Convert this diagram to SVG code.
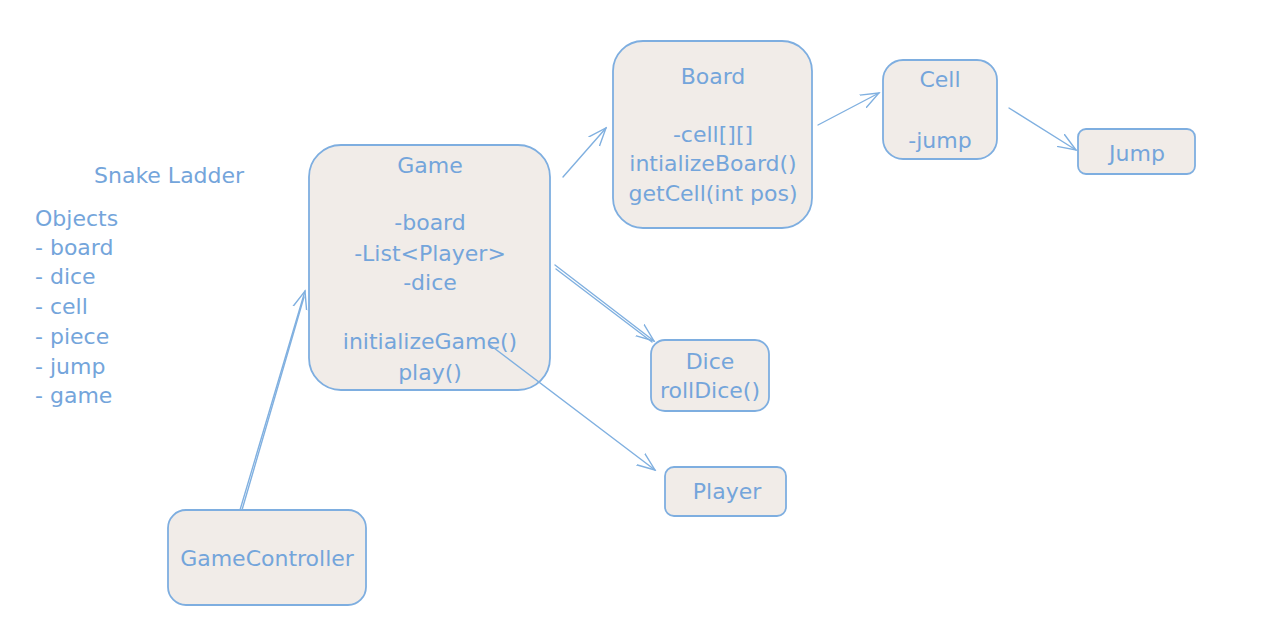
<svg xmlns="http://www.w3.org/2000/svg" width="1275" height="634" viewBox="0 0 1275 634">
<style>
.box{fill:#f1ece8;stroke:#7eaee0;stroke-width:1.8}
.t{font-family:"DejaVu Sans","Liberation Sans",sans-serif;font-size:22px;fill:#74a5db;text-anchor:middle}
.l{font-family:"DejaVu Sans","Liberation Sans",sans-serif;font-size:22px;fill:#74a5db}
.c{fill:none;stroke:#80b0e0;stroke-width:1.4;stroke-linecap:round}
</style>
<defs>
<marker id="ah" viewBox="0 0 20 20" refX="18" refY="10" markerWidth="20" markerHeight="20" markerUnits="userSpaceOnUse" orient="auto">
<path d="M0,3 L18,10 L0,17" fill="none" stroke="#80b0e0" stroke-width="1.4" stroke-linecap="round"/>
</marker>
</defs>
<rect width="1275" height="634" fill="#ffffff"/>
<g id="notes">
<text class="l" x="94" y="183">Snake Ladder</text>
<text class="l" x="35" y="226">Objects</text>
<text class="l" x="35" y="255">- board</text>
<text class="l" x="35" y="284">- dice</text>
<text class="l" x="35" y="314">- cell</text>
<text class="l" x="35" y="344">- piece</text>
<text class="l" x="35" y="374">- jump</text>
<text class="l" x="35" y="403">- game</text>
</g>
<g id="game">
<rect class="box" x="309" y="145" width="241" height="245" rx="32"/>
<text class="t" x="430" y="173">Game</text>
<text class="t" x="430" y="230">-board</text>
<text class="t" x="430" y="261">-List&lt;Player&gt;</text>
<text class="t" x="430" y="290">-dice</text>
<text class="t" x="430" y="349">initializeGame()</text>
<text class="t" x="430" y="380">play()</text>
</g>
<g id="board">
<rect class="box" x="613" y="41" width="199" height="187" rx="30"/>
<text class="t" x="713" y="84">Board</text>
<text class="t" x="713" y="142">-cell[][]</text>
<text class="t" x="713" y="171">intializeBoard()</text>
<text class="t" x="713" y="201">getCell(int pos)</text>
</g>
<g id="cell">
<rect class="box" x="883" y="60" width="114" height="99" rx="20"/>
<text class="t" x="940" y="87">Cell</text>
<text class="t" x="940" y="148">-jump</text>
</g>
<g id="jump">
<rect class="box" x="1078" y="129" width="117" height="45" rx="8"/>
<text class="t" x="1137" y="161">Jump</text>
</g>
<g id="dice">
<rect class="box" x="651" y="340" width="118" height="71" rx="14"/>
<text class="t" x="710" y="369">Dice</text>
<text class="t" x="710" y="398">rollDice()</text>
</g>
<g id="player">
<rect class="box" x="665" y="467" width="121" height="49" rx="9"/>
<text class="t" x="727" y="499">Player</text>
</g>
<g id="gamecontroller">
<rect class="box" x="168" y="510" width="198" height="95" rx="18"/>
<text class="t" x="267" y="566">GameController</text>
</g>
<g id="connectors">
<line class="c" x1="563" y1="177" x2="606" y2="128" marker-end="url(#ah)"/>
<line class="c" x1="818" y1="125" x2="879" y2="93" marker-end="url(#ah)"/>
<line class="c" x1="1009" y1="108" x2="1076" y2="150" marker-end="url(#ah)"/>
<line class="c" x1="555" y1="265" x2="654" y2="341" marker-end="url(#ah)"/>
<line class="c" x1="556" y1="269" x2="652" y2="342"/>
<line class="c" x1="490" y1="345" x2="655" y2="470" marker-end="url(#ah)"/>
<line class="c" x1="240" y1="510" x2="305" y2="291" marker-end="url(#ah)"/>
<line class="c" x1="242" y1="510" x2="304" y2="297"/>
</g>
</svg>
